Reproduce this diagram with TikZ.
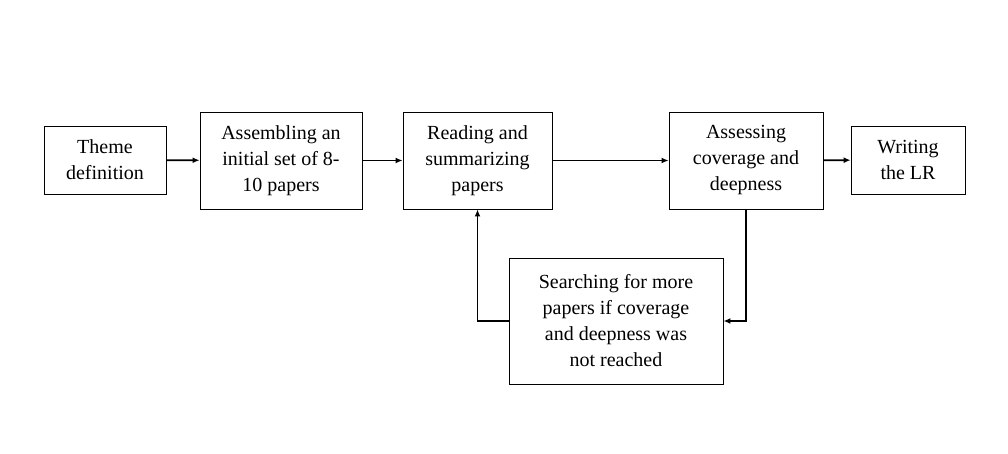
\documentclass[tikz,border=0pt]{standalone}
\usepackage{fontspec}
\setmainfont{Liberation Serif}
\usetikzlibrary{arrows.meta}
\begin{document}
\begin{tikzpicture}[x=1pt,y=-1pt,
  stage/.style={draw,line width=0.9pt,align=center,inner sep=0pt,
    font=\fontsize{20}{26}\selectfont},
  flow/.style={line width=1.8pt,-{Latex[length=7pt,width=6pt]}}]
\useasboundingbox (0,0) rectangle (1008,454);
% stages
\node[stage,minimum width=122,minimum height=68] (theme) at (105,160) {Theme\\definition};
\node[stage,minimum width=162,minimum height=97] (assemble) at (281,160.5) {Assembling an\\initial set of 8-\\10 papers};
\node[stage,minimum width=149,minimum height=97] (read) at (477.5,160.5) {Reading and\\summarizing\\papers};
\node[stage,minimum width=154,minimum height=97] (assess) at (746,160.5) {Assessing\\coverage and\\deepness};
\node[stage,minimum width=114,minimum height=68] (write) at (908,160) {Writing\\the LR};
\node[stage,minimum width=214,minimum height=126] (search) at (616,321) {Searching for more\\papers if coverage\\and deepness was\\not reached};
% connectors
\draw[flow] (theme) -- (assemble);
\draw[flow] (assemble) -- (read);
\draw[flow] (read) -- (assess);
\draw[flow] (assess) -- (write);
\draw[flow] (assess.south) |- (search.east);
\draw[flow] (search.west) -| (read.south);
\end{tikzpicture}
\end{document}
